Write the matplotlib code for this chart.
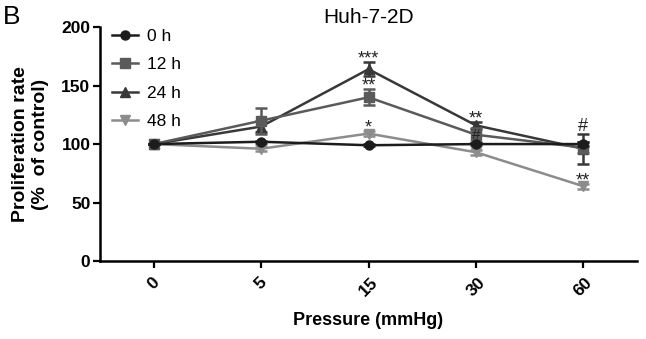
import matplotlib as mpl
mpl.use('Agg')
import matplotlib.pyplot as plt
import numpy as np

plt.rcParams['font.family'] = ['Liberation Sans', 'DejaVu Sans']

### DATA ###
pressures = ['0', '5', '15', '30', '60']
series = ['0 h', '12 h', '24 h', '48 h']

h0 = [100, 102, 99, 100, 100]
h0_err = [0, 1, 1, 1, 2]
h12 = [100, 120, 140, 108, 97]
h12_err = [0, 11, 7, 6, 5]
h24 = [100, 115, 164, 116, 96]
h24_err = [0, 5, 6, 3, 13]
h48 = [100, 96, 109, 93, 64]
h48_err = [0, 2, 2, 2, 2]

# significance marks: (series index, pressure index, text)
marks = [(2, 2, '***'), (1, 2, '**'), (3, 2, '*'),
         (2, 3, '**'), (1, 3, '#'),
         (2, 4, '#'), (3, 4, '**')]

### PLOT ###
colors = ['#1c1c1c', '#5a5a5a', '#383838', '#8c8c8c']
markers = ['o', 's', '^', 'v']
means = [h0, h12, h24, h48]
errs = [h0_err, h12_err, h24_err, h48_err]

fig = plt.figure(figsize=(6.46, 3.39), dpi=100)
ax = fig.add_axes([0.155, 0.230, 0.831, 0.690])

x = np.arange(len(pressures))
handles = []
for i in range(len(series)):
	c = ax.errorbar(x, means[i], yerr=errs[i], color=colors[i], marker=markers[i],
		markersize=6.5, linewidth=1.8, elinewidth=1.8, capsize=4, capthick=1.8,
		label=series[i], zorder=3 + (3 - i))
	handles.append(c[0])

for (s, p, txt) in marks:
	top = means[s][p] + errs[s][p]
	size = 13
	if txt == '#':
		dy = 2
		if p == 3:
			# crowded under the 24 h mark, as in the original
			dy = -8
			size = 11
	else:
		dy = -1  # asterisks sit high in the font box
	ax.annotate(txt, (x[p], top), xytext=(0, dy), textcoords='offset points',
		ha='center', va='baseline', fontsize=size, color='#222222', zorder=10)

ax.set_xlim(-0.5, 4.5)
ax.set_ylim(0, 200)
ax.set_yticks([0, 50, 100, 150, 200])
ax.set_xticks(x)
ax.set_xticklabels(pressures, rotation=45, fontweight='bold', fontsize=12.5)
for lbl in ax.get_yticklabels():
	lbl.set_fontweight('bold')
	lbl.set_fontsize(12.5)

for side in ['top', 'right']:
	ax.spines[side].set_visible(False)
for side in ['left', 'bottom']:
	ax.spines[side].set_linewidth(1.8)
ax.tick_params(axis='both', direction='out', length=5, width=1.6)
ax.tick_params(axis='x', pad=5)
ax.tick_params(axis='y', pad=2)

ax.set_xlabel('Pressure (mmHg)', fontweight='bold', fontsize=13, labelpad=9)
ax.set_ylabel('Proliferation rate\n(%  of control)', fontweight='bold', fontsize=14,
	labelpad=9, linespacing=1.2)
ax.set_title('Huh-7-2D', fontsize=15, pad=3)

ax.legend(handles=handles, labels=series, loc='upper left', bbox_to_anchor=(0.0, 1.045),
	frameon=False, fontsize=12.5, handlelength=1.5, handletextpad=0.5,
	labelspacing=0.76, borderaxespad=0.3)

fig.text(0.005, 0.985, 'B', fontsize=19, va='top', ha='left')

plt.savefig('out.png', dpi=100)
